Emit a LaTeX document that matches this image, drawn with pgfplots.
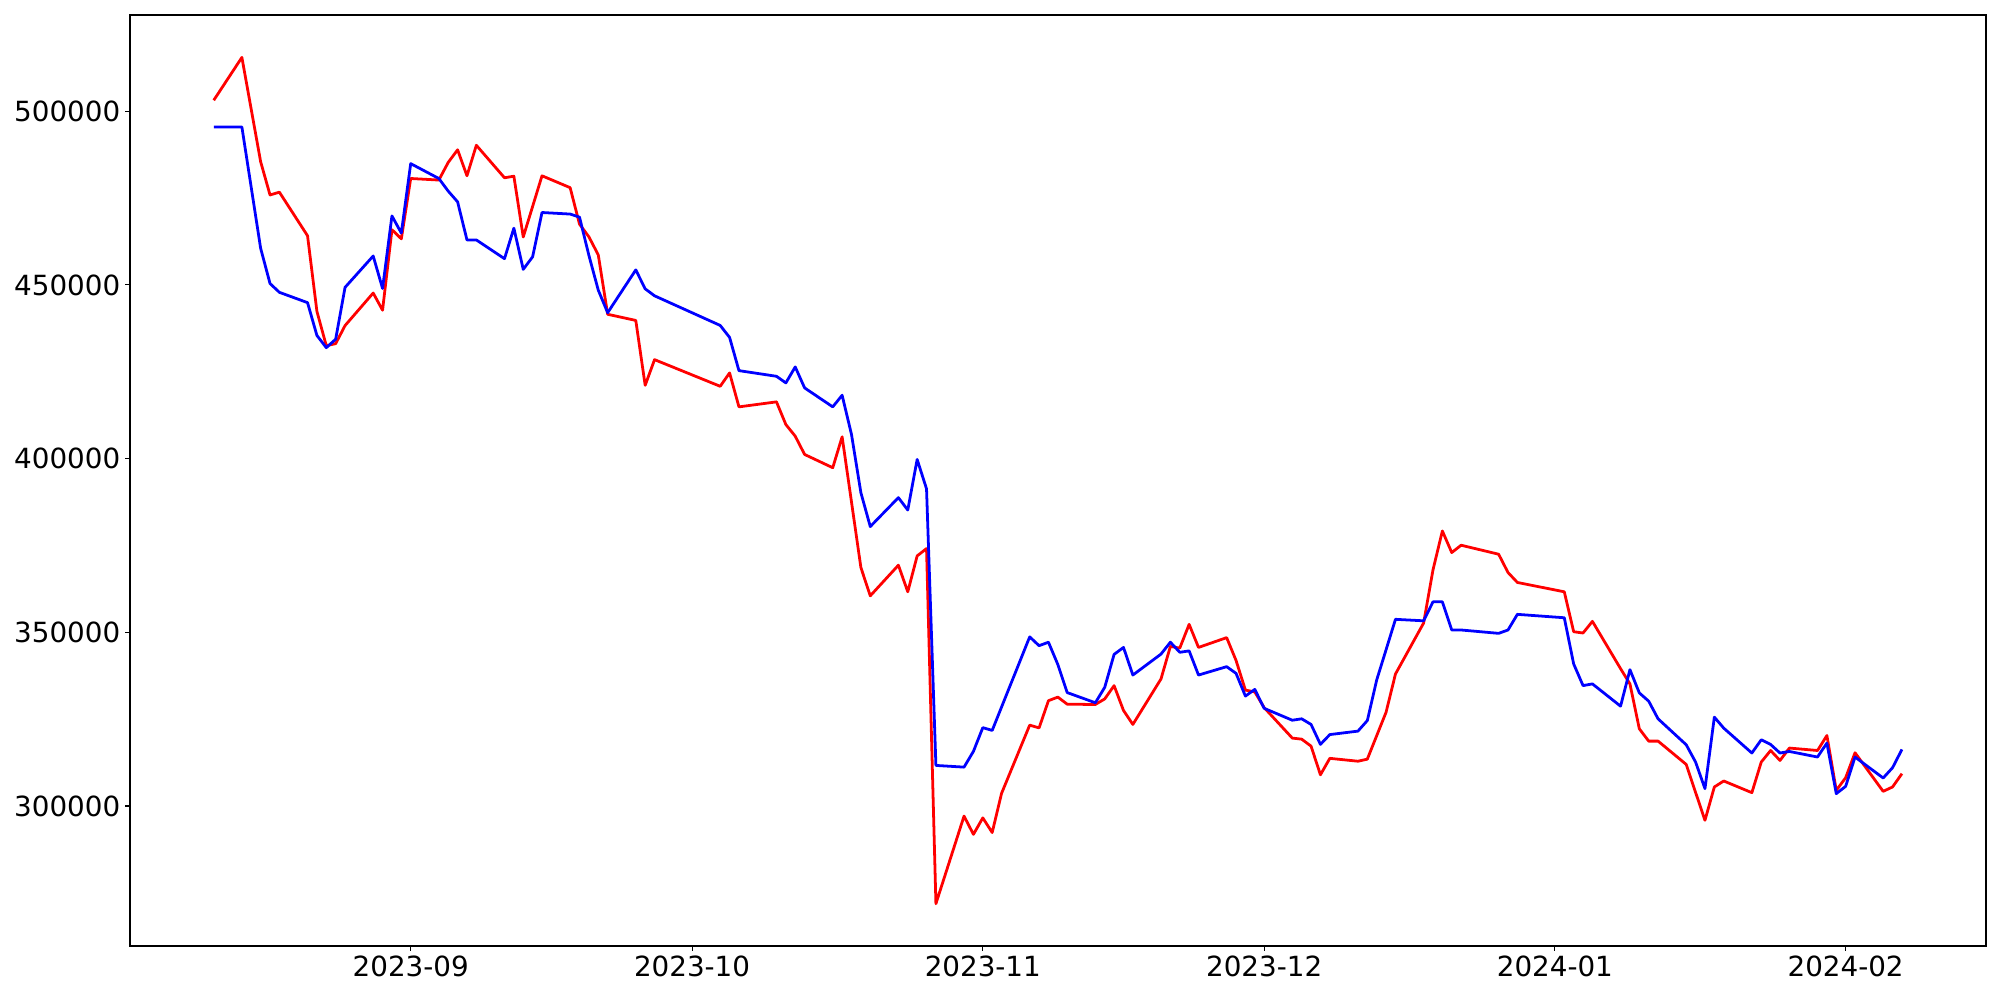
\documentclass[border=0pt]{standalone}
\usepackage{fontspec}
\setmainfont{DejaVu Sans}
\usepackage{pgfplots}
\usepackage{pgfplotstable}
\pgfplotsset{compat=1.18}
% d = days from 2023-09-01
\pgfplotstableread{
d red blue
-21 503160 495460
-18 515500 495460
-16 485470 460540
-15 475900 450400
-14 476700 447870
-11 464160 444900
-10 442400 435460
-9 432500 431940
-8 433100 434380
-7 438300 449300
-4 447670 458330
-3 442730 448980
-2 465900 469870
-1 463270 464930
0 480640 484920
3 480190 480640
4 485270 477000
5 488900 473920
6 481420 462950
7 490200 462950
10 480850 457550
11 481300 466340
12 463800 454480
13 472600 458100
14 481420 470850
17 478000 470400
18 467500 469500
19 463850 458500
20 458640 448500
21 441550 442000
24 439780 454330
25 421100 448880
26 428490 446870
33 420820 438340
34 424670 434900
35 414900 425330
39 416340 423700
40 409820 421800
41 406460 426390
42 401200 420360
45 397380 414900
46 406280 418240
47 387500 406950
48 368660 390200
49 360500 380440
52 369320 388770
53 361660 385200
54 371990 399770
55 374110 391300
56 271880 311680
59 297100 311190
60 291840 315730
61 296580 322560
62 292360 321760
63 303640 328500
66 323280 348690
67 322480 346150
68 330320 347150
69 331350 340730
70 329310 332650
73 329220 329720
74 330830 334170
75 334650 343650
76 327500 345650
77 323480 337700
80 336580 343730
81 345940 347150
82 345450 344250
83 352290 344650
84 345650 337700
87 348470 340110
88 341920 338190
89 333360 331640
90 332850 333570
91 328310 328120
94 319550 324690
95 319240 325100
96 317230 323480
97 308990 317740
98 313720 320560
101 312890 321560
102 313490 324600
103 320270 336300
104 327020 345000
105 338000 353740
108 352670 353310
109 367970 358770
110 379170 358770
111 372960 350670
112 375070 350670
116 372480 349700
117 367210 350670
118 364350 355170
123 361660 354190
124 350170 340890
125 349800 334660
126 353150 335150
129 339540 328740
130 335150 339250
131 322230 332560
132 318680 330180
133 318680 325100
136 311970 317630
137 303900 312650
138 295890 304990
139 305480 325580
140 307200 322420
143 303840 315250
144 312650 319060
145 315980 317710
146 313110 315250
147 316680 315700
150 315980 314100
151 320290 318120
152 304500 303560
153 308150 305660
154 315330 314100
157 304220 308060
158 305480 311020
159 309300 316280
}\data
\begin{document}
\begin{tikzpicture}
\begin{axis}[
  at={(0,0)}, anchor=south west,
  scale only axis, width=1336.3bp, height=670.3bp,
  xmin=-29.93, xmax=167.96, ymin=259700, ymax=527700,
  xtick={0,30,61,91,122,153},
  xticklabels={2023-09,2023-10,2023-11,2023-12,2024-01,2024-02},
  ytick={300000,350000,400000,450000,500000},
  yticklabels={300000,350000,400000,450000,500000},
  xtick pos=bottom, ytick pos=left,
  tick align=outside, major tick length=3.5bp,
  tick style={line width=0.8bp, black},
  axis line style={line width=0.8bp},
  tick label style={font=\fontsize{20bp}{24bp}\selectfont},
  /pgf/number format/assume math mode=true,
]
\addplot[red, line width=2bp, mark=none, line join=round] table[x=d, y=red] {\data};
\addplot[blue, line width=2bp, mark=none, line join=round] table[x=d, y=blue] {\data};
\end{axis}
\pgfresetboundingbox
\useasboundingbox (-93.6bp,-38.88bp) rectangle (1346.4bp,681.12bp);
\end{tikzpicture}
\end{document}
